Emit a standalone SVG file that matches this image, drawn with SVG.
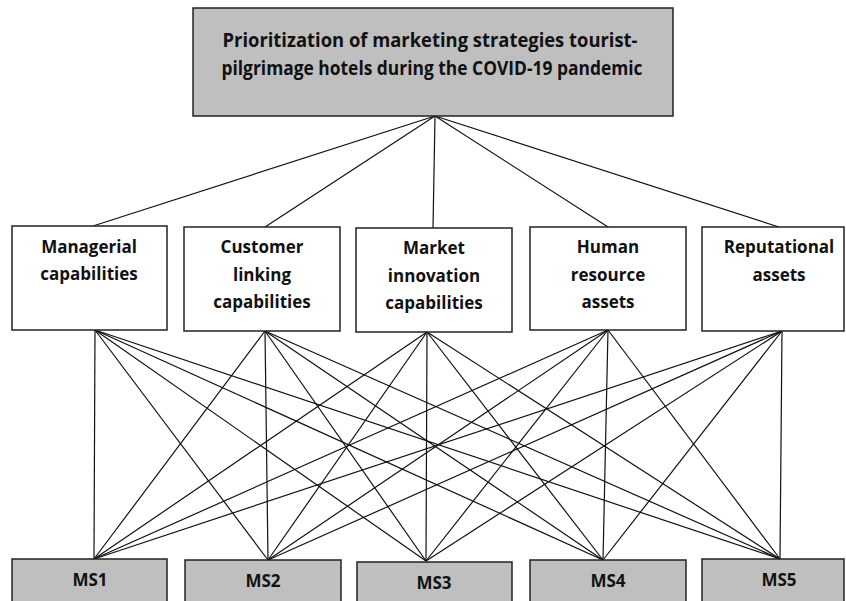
<svg xmlns="http://www.w3.org/2000/svg" width="846" height="601" viewBox="0 0 846 601">
<style>
.box{fill:#fff;stroke:#222;stroke-width:1.5}
.gbox{fill:#bfbfbf;stroke:#222;stroke-width:1.5}
text{font-family:"Open Sans","Liberation Sans",Arial,sans-serif;font-weight:bold;fill:#111;text-anchor:middle}
.t{font-size:19px}
.m{font-size:17px}
.c line{stroke:#111;stroke-width:1.2}
</style>
<rect width="846" height="601" fill="#fff"/>
<g class="c" id="connectors">
<line x1="435" y1="116" x2="93" y2="226"/>
<line x1="435" y1="116" x2="265" y2="227"/>
<line x1="435" y1="116" x2="433" y2="228"/>
<line x1="435" y1="116" x2="608" y2="227"/>
<line x1="435" y1="116" x2="779" y2="227"/>
<line x1="95" y1="330" x2="94" y2="559"/><line x1="95" y1="330" x2="268" y2="560"/><line x1="95" y1="330" x2="426" y2="561"/><line x1="95" y1="330" x2="603" y2="560"/><line x1="95" y1="330" x2="780" y2="559"/>
<line x1="265" y1="331" x2="94" y2="559"/><line x1="265" y1="331" x2="268" y2="560"/><line x1="265" y1="331" x2="426" y2="561"/><line x1="265" y1="331" x2="603" y2="560"/><line x1="265" y1="331" x2="780" y2="559"/>
<line x1="427" y1="332" x2="94" y2="559"/><line x1="427" y1="332" x2="268" y2="560"/><line x1="427" y1="332" x2="426" y2="561"/><line x1="427" y1="332" x2="603" y2="560"/><line x1="427" y1="332" x2="780" y2="559"/>
<line x1="608" y1="330" x2="94" y2="559"/><line x1="608" y1="330" x2="268" y2="560"/><line x1="608" y1="330" x2="426" y2="561"/><line x1="608" y1="330" x2="603" y2="560"/><line x1="608" y1="330" x2="780" y2="559"/>
<line x1="782" y1="331" x2="94" y2="559"/><line x1="782" y1="331" x2="268" y2="560"/><line x1="782" y1="331" x2="426" y2="561"/><line x1="782" y1="331" x2="603" y2="560"/><line x1="782" y1="331" x2="780" y2="559"/>
</g>
<g id="goal">
<rect class="gbox" x="193" y="8" width="480" height="108"/>
<text class="t" x="430" y="47" textLength="415" lengthAdjust="spacingAndGlyphs">Prioritization of marketing strategies tourist-</text>
<text class="t" x="432" y="75" textLength="421" lengthAdjust="spacingAndGlyphs">pilgrimage hotels during the COVID-19 pandemic</text>
</g>
<g id="c1">
<rect class="box" x="12" y="226" width="155" height="104"/>
<text class="m" x="89" y="253">Managerial</text>
<text class="m" x="89" y="280">capabilities</text>
</g>
<g id="c2">
<rect class="box" x="184" y="227" width="156" height="104"/>
<text class="m" x="262" y="253">Customer</text>
<text class="m" x="262" y="281">linking</text>
<text class="m" x="262" y="308">capabilities</text>
</g>
<g id="c3">
<rect class="box" x="356" y="228" width="156" height="104"/>
<text class="m" x="434" y="254">Market</text>
<text class="m" x="434" y="282">innovation</text>
<text class="m" x="434" y="309">capabilities</text>
</g>
<g id="c4">
<rect class="box" x="530" y="227" width="156" height="103"/>
<text class="m" x="608" y="253">Human</text>
<text class="m" x="608" y="281">resource</text>
<text class="m" x="608" y="308">assets</text>
</g>
<g id="c5">
<rect class="box" x="702" y="227" width="142" height="104"/>
<text class="m" x="779" y="253">Reputational</text>
<text class="m" x="779" y="281">assets</text>
</g>
<g id="ms1"><rect class="gbox" x="12" y="559" width="155" height="60"/><text class="m" x="90" y="586">MS1</text></g>
<g id="ms2"><rect class="gbox" x="185" y="560" width="156" height="60"/><text class="m" x="263" y="587">MS2</text></g>
<g id="ms3"><rect class="gbox" x="357" y="562" width="155" height="60"/><text class="m" x="434" y="589">MS3</text></g>
<g id="ms4"><rect class="gbox" x="530" y="560" width="156" height="60"/><text class="m" x="608" y="587">MS4</text></g>
<g id="ms5"><rect class="gbox" x="702" y="559" width="142" height="60"/><text class="m" x="779" y="586">MS5</text></g>
</svg>
